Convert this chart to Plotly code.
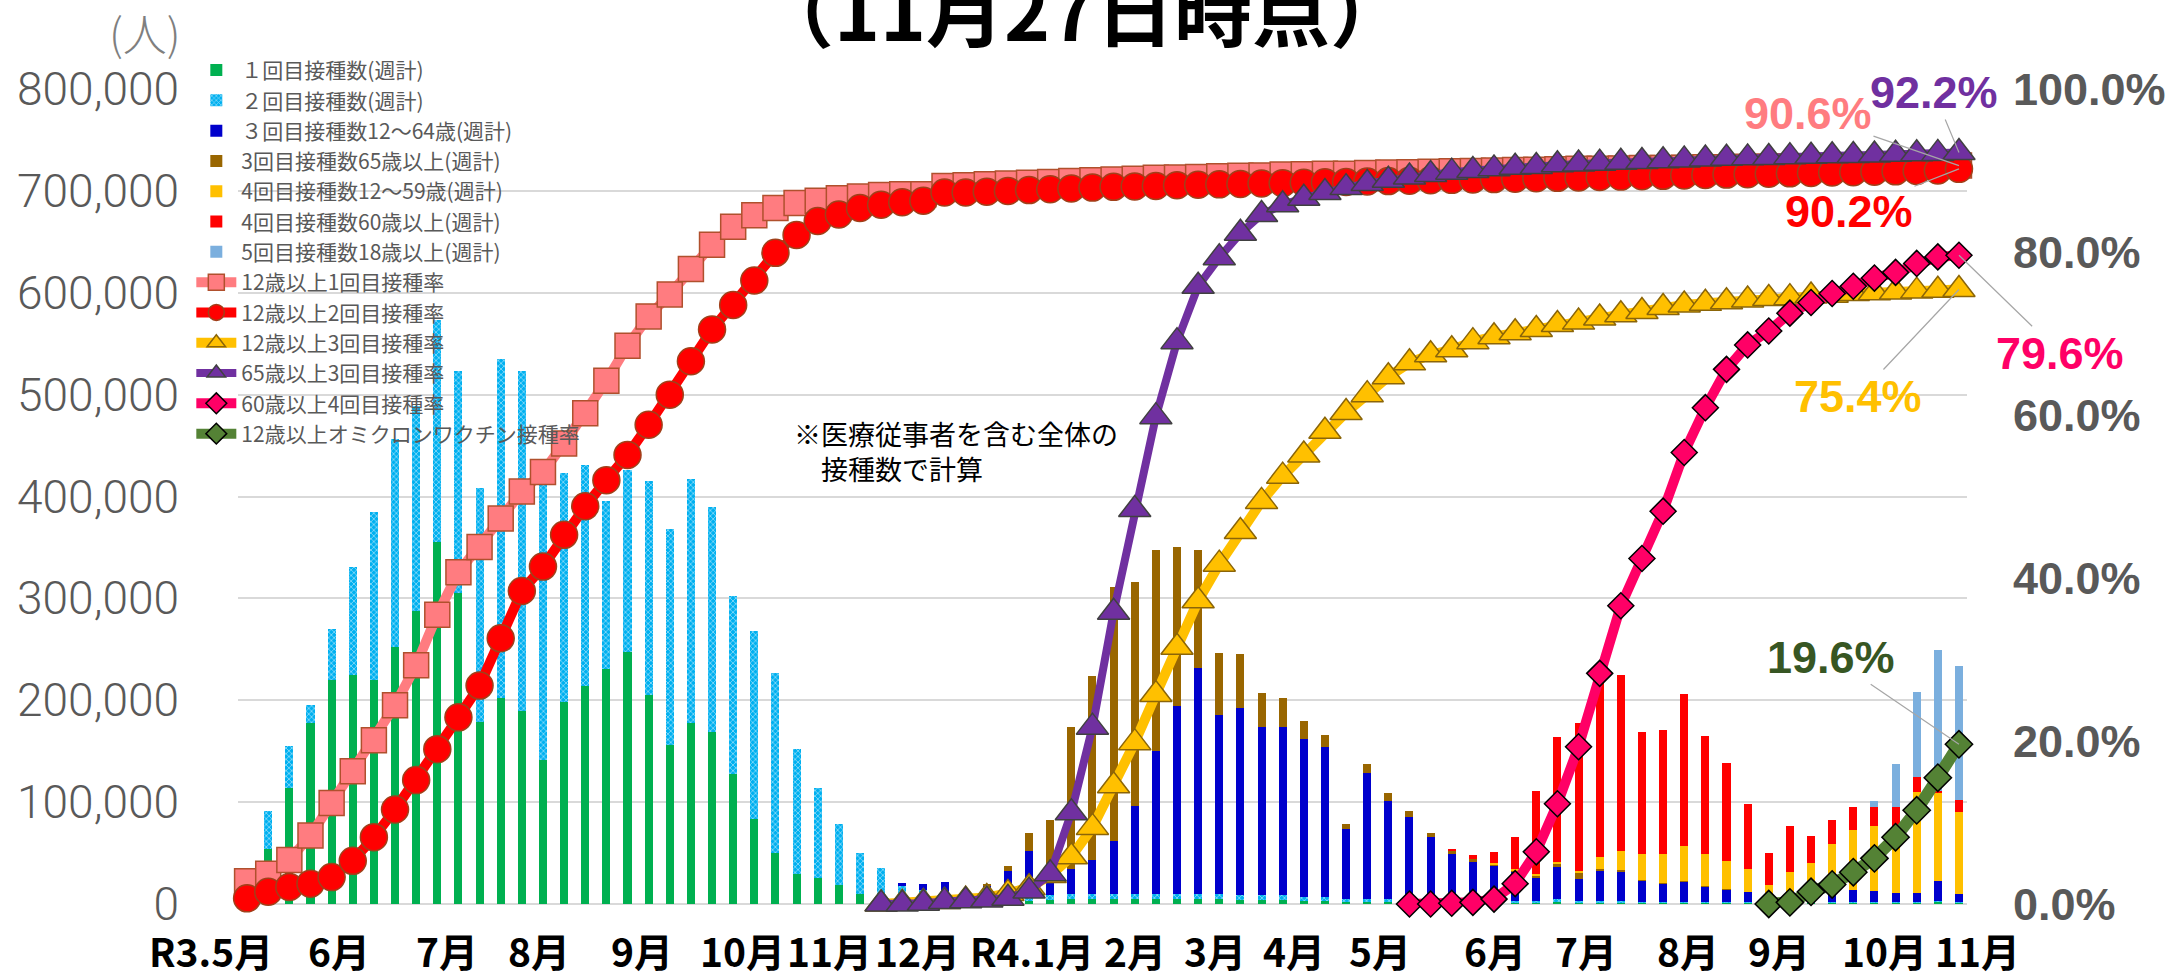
import plotly.graph_objects as go

# ---- weekly index: week 0 = 2021(R3)/5/3 week ... week 81 = 2022(R4)/11/21-27 week
weeks = list(range(82))

# ---- weekly counts (thousands of people)
first_k = [15, 54, 114, 178, 220, 225, 220, 252, 288, 355,
           305, 179, 202, 189, 141, 198, 214, 231, 247, 205,
           156, 178, 169, 128, 83, 50, 29, 26, 19, 10,
           4, 2, 2, 2, 1, 1, 3, 3, 4, 5,
           5, 5, 5, 5, 5, 5, 5, 4, 4, 4,
           3, 3, 2, 2, 2, 2, 2, 2, 2, 2,
           1, 1, 2, 1, 1, 1, 1, 1, 1, 1,
           1, 1, 1, 1, 1, 1, 1, 1, 1, 1,
           2, 1]
second_k = [12, 37, 41, 17, 50, 106, 165, 204, 201, 218,
            218, 229, 333, 334, 274, 225, 217, 165, 179, 210,
            212, 239, 221, 174, 185, 177, 123, 88, 60, 40,
            31, 16, 12, 9, 6, 6, 6, 6, 5, 5,
            5, 5, 5, 5, 5, 5, 5, 5, 5, 5,
            4, 4, 3, 3, 3, 3, 3, 2, 2, 2,
            2, 2, 3, 2, 2, 2, 1, 1, 1, 1,
            1, 1, 1, 1, 1, 1, 1, 1, 1, 1,
            1, 1]
third_u64_k = [0, 0, 0, 0, 0, 0, 0, 0, 0, 0,
               0, 0, 0, 0, 0, 0, 0, 0, 0, 0,
               0, 0, 0, 0, 0, 0, 0, 0, 0, 0,
               0, 3, 6, 11, 5, 11, 23, 43, 24, 24,
               33, 52, 86, 140, 184, 222, 176, 183, 165, 165,
               155, 147, 69, 124, 96, 80, 61, 45, 37, 33,
               29, 23, 31, 22, 29, 28, 21, 18, 20, 15,
               12, 10, 4, 5, 6, 10, 12, 11, 9, 9,
               20, 8]
third_65_k = [0, 0, 0, 0, 0, 0, 0, 0, 0, 0,
              0, 0, 0, 0, 0, 0, 0, 0, 0, 0,
              0, 0, 0, 0, 0, 0, 0, 0, 0, 0,
              0, 0, 0, 0, 1, 2, 5, 18, 49, 140,
              181, 249, 220, 197, 156, 115, 60, 53, 33, 28,
              18, 12, 5, 8, 8, 6, 4, 3, 3, 2,
              1, 2, 3, 5, 2, 2, 1, 1, 1, 1,
              1, 0, 0, 0, 0, 0, 0, 0, 0, 0,
              0, 0]
fourth_u59_k = [0] * 59 + [1, 1, 1, 2, 2, 12, 19, 25, 28, 34, 31,
                           27, 22, 13, 24, 32, 47, 59, 64, 66, 99,
                           86, 80]
fourth_60_k = [0] * 57 + [2, 4, 11, 32, 82, 123, 146, 178, 173, 120,
                          122, 149, 116, 96, 64, 31, 46, 27, 23, 22,
                          18, 18, 15, 2, 12]
fifth_k = [0] * 77 + [6, 42, 83, 138, 132]

# ---- vaccination rates (%)
rate_1st_12 = [2.8, 3.7, 5.4, 8.4, 12.4, 16.3, 20.1, 24.4, 29.3, 35.5,
               40.7, 43.8, 47.3, 50.6, 53.0, 56.5, 60.2, 64.2, 68.5, 72.1,
               74.8, 77.9, 80.9, 83.1, 84.5, 85.4, 86.0, 86.3, 86.6, 86.8,
               87.0, 87.1, 87.1, 88.1, 88.2, 88.3, 88.4, 88.5, 88.6, 88.7,
               88.8, 88.9, 89.0, 89.1, 89.15, 89.2, 89.3, 89.35, 89.4, 89.5,
               89.55, 89.6, 89.6, 89.7, 89.75, 89.8, 89.85, 89.9, 89.95, 90.0,
               90.05, 90.1, 90.15, 90.2, 90.2, 90.25, 90.3, 90.3, 90.35, 90.4,
               90.4, 90.45, 90.45, 90.5, 90.5, 90.5, 90.55, 90.55, 90.6, 90.6,
               90.6, 90.6]
rate_2nd_12 = [0.7, 1.5, 2.1, 2.5, 3.3, 5.3, 8.2, 11.6, 15.2, 19.0,
               22.9, 26.8, 32.6, 38.4, 41.4, 45.3, 48.8, 52.0, 55.1, 58.8,
               62.5, 66.6, 70.5, 73.5, 76.5, 79.9, 82.1, 83.8, 84.6, 85.4,
               85.8, 86.1, 86.3, 87.3, 87.3, 87.4, 87.5, 87.6, 87.7, 87.8,
               87.9, 88.0, 88.05, 88.1, 88.2, 88.25, 88.3, 88.35, 88.4, 88.45,
               88.5, 88.55, 88.6, 88.65, 88.7, 88.75, 88.8, 88.85, 88.9, 88.95,
               89.0, 89.05, 89.1, 89.15, 89.2, 89.25, 89.3, 89.35, 89.4, 89.45,
               89.5, 89.55, 89.6, 89.65, 89.7, 89.75, 89.8, 89.85, 89.9, 89.95,
               90.0, 90.2]
rate_3rd_12 = [None] * 30 + [0.0, 0.1, 0.2, 0.3, 0.5, 0.8, 1.3, 2.0, 3.5, 5.8,
                             9.4, 14.5, 19.8, 25.7, 31.5, 37.2, 41.7, 45.7, 49.4, 52.5,
                             55.1, 58.0, 60.3, 62.5, 64.7, 66.4, 67.4, 68.0, 69.0, 69.6,
                             70.1, 70.5, 71.1, 71.4, 71.9, 72.3, 72.7, 73.2, 73.5, 73.7,
                             73.9, 74.1, 74.3, 74.4, 74.6, 74.7, 74.9, 75.0, 75.1, 75.2,
                             75.3, 75.4]
rate_3rd_65 = [None] * 30 + [0.0, 0.0, 0.1, 0.3, 0.4, 0.5, 0.7, 1.6, 3.7, 11.2,
                             21.7, 35.8, 48.4, 59.8, 69.0, 75.8, 79.3, 82.3, 84.6, 85.8,
                             86.6, 87.3, 87.9, 88.4, 88.8, 89.2, 89.5, 89.8, 90.0, 90.2,
                             90.4, 90.5, 90.7, 90.8, 90.9, 91.0, 91.1, 91.2, 91.3, 91.4,
                             91.5, 91.55, 91.6, 91.7, 91.75, 91.8, 91.85, 91.9, 92.0, 92.05,
                             92.1, 92.2]
rate_4th_60 = [None] * 55 + [0.0, 0.0, 0.1, 0.2, 0.6,
                             2.5, 6.4, 12.3, 19.3, 28.3, 36.6, 42.4, 48.2, 55.4, 60.9,
                             65.6, 68.6, 70.3, 72.5, 73.8, 74.9, 75.8, 76.8, 77.5, 78.6,
                             79.4, 79.6]
rate_omicron_12 = [None] * 72 + [0.0, 0.2, 1.5, 2.4, 3.9, 5.6, 8.2, 11.5, 15.5, 19.6]

# ---- x-axis month labels (position in week units)
month_labels = ["R3.5月", "6月", "7月", "8月", "9月", "10月", "11月", "12月", "R4.1月",
                "2月", "3月", "4月", "5月", "6月", "7月", "8月", "9月", "10月", "11月"]
month_pos = [-1.7, 4.35, 9.46, 13.81, 18.68, 23.46, 27.58, 31.74, 37.13,
             42.0, 45.79, 49.53, 53.6, 59.03, 63.34, 68.2, 72.5, 77.5, 81.9]

# ---- axis ticks
left_ticks = [0, 100000, 200000, 300000, 400000, 500000, 600000, 700000, 800000]
right_ticks = [0, 20, 40, 60, 80, 100]
right_tick_text = ["0.0%", "20.0%", "40.0%", "60.0%", "80.0%", "100.0%"]

# ---- end labels
end_labels = ["90.6%", "92.2%", "90.2%", "79.6%", "75.4%", "19.6%"]

GREY = "#595959"
JP = "Noto Sans CJK JP"
X_RANGE = [-0.43, 81.38]

fig = go.Figure()

bars = [
    ("１回目接種数(週計)", first_k, "#00B050"),
    ("２回目接種数(週計)", second_k, "#00B0F0"),
    ("３回目接種数12～64歳(週計)", third_u64_k, "#0000CC"),
    ("3回目接種数65歳以上(週計)", third_65_k, "#996600"),
    ("4回目接種数12～59歳(週計)", fourth_u59_k, "#FFC000"),
    ("4回目接種数60歳以上(週計)", fourth_60_k, "#FF0000"),
    ("5回目接種数18歳以上(週計)", fifth_k, "#7BAFDE"),
]
for i, (name, vals, col) in enumerate(bars):
    marker = dict(color=col, line=dict(width=0))
    if i == 1:
        marker["pattern"] = dict(shape="x", fgcolor="#FFFFFF", size=4,
                                 solidity=0.4, fillmode="overlay")
    fig.add_trace(go.Bar(x=weeks, y=[v * 1000 for v in vals], name=name,
                         marker=marker, width=0.38, yaxis="y"))

lines = [
    ("12歳以上1回目接種率", rate_1st_12, "#FF7C80", "square", 25, "#B0502D", 10),
    ("12歳以上2回目接種率", rate_2nd_12, "#FF0000", "circle", 27, "#A0401A", 10),
    ("12歳以上3回目接種率", rate_3rd_12, "#FFC000", "triangle-up", 28, "#8B6508", 10),
    ("65歳以上3回目接種率", rate_3rd_65, "#7030A0", "triangle-up", 28, "#404040", 8),
    ("60歳以上4回目接種率", rate_4th_60, "#FF0066", "diamond", 20, "#000000", 10),
    ("12歳以上オミクロンワクチン接種率", rate_omicron_12, "#548235", "diamond", 21, "#000000", 12),
]
for name, vals, col, sym, size, edge, lw in lines:
    fig.add_trace(go.Scatter(x=weeks, y=vals, name=name, yaxis="y2",
                             mode="lines+markers", cliponaxis=False,
                             line=dict(color=col, width=lw),
                             marker=dict(symbol=sym, size=size, color=col,
                                         line=dict(color=edge, width=1.5))))

annotations = []
# month labels under the axis (converted to paper units through the x range so that
# labels beyond the first/last week are still drawn)
for lab, pos in zip(month_labels, month_pos):
    xp = (pos - X_RANGE[0]) / (X_RANGE[1] - X_RANGE[0])
    annotations.append(dict(x=xp, xref="paper", y=-0.057, yref="paper", text=lab,
                            showarrow=False, xanchor="center", yanchor="middle",
                            font=dict(family="Liberation Sans Narrow, Arial Narrow, " + JP,
                                      size=39, color="#000000", weight="bold")))

# end-value labels with leader lines
end_specs = [
    (rate_1st_12, "#FF7C80", -151, -52),
    (rate_3rd_65, "#7030A0", -25, -60),
    (rate_2nd_12, "#FF0000", -110, 43),
    (rate_4th_60, "#FF0066", 101, 98),
    (rate_3rd_12, "#FFC000", -101, 107),
    (rate_omicron_12, "#375623", -128, -87),
]
for text, (vals, col, ax, ay) in zip(end_labels, end_specs):
    annotations.append(dict(x=weeks[-1], xref="x", y=vals[-1], yref="y2", text=text,
                            showarrow=True, arrowhead=0, arrowwidth=1.2,
                            arrowcolor="#A6A6A6", ax=ax, ay=ay, standoff=0,
                            font=dict(family="Liberation Sans, Arial", size=45,
                                      color=col, weight="bold")))

# title (partly cut off at the top)
annotations.append(dict(x=0.488, xref="paper", y=1.100, yref="paper",
                        text="（11月27日時点）", showarrow=False,
                        xanchor="center", yanchor="middle",
                        font=dict(family=JP, size=78, color="#000000", weight="bold")))
# unit label
annotations.append(dict(x=-0.054, xref="paper", y=1.070, yref="paper", text="(人)",
                        showarrow=False, xanchor="center", yanchor="middle",
                        font=dict(family=JP, size=44, color="#7F7F7F", weight=300)))
# note
annotations.append(dict(x=25.8, xref="x", y=445000, yref="y",
                        text="※医療従事者を含む全体の<br>　接種数で計算",
                        showarrow=False, xanchor="left", yanchor="middle", align="left",
                        font=dict(family=JP, size=27, color="#000000")))

fig.update_layout(
    width=2179, height=977,
    margin=dict(l=238, r=212, t=89, b=73, pad=0),
    paper_bgcolor="white", plot_bgcolor="white",
    barmode="stack", bargap=0,
    showlegend=True,
    legend=dict(x=-0.027, y=1.048, xanchor="left", yanchor="top",
                bgcolor="rgba(0,0,0,0)", traceorder="normal",
                font=dict(family=JP, size=21, color=GREY),
                itemwidth=40, tracegroupgap=0),
    xaxis=dict(range=X_RANGE, showgrid=False, zeroline=False,
               showticklabels=False, ticks="", showline=False),
    yaxis=dict(range=[0, 800000], tickvals=left_ticks,
               tickformat=",d", showgrid=True, gridcolor="#D9D9D9", gridwidth=2,
               zeroline=True, zerolinecolor="#D9D9D9", zerolinewidth=2,
               showline=False, ticks="", ticklabelstandoff=58,
               tickfont=dict(family="Roboto", size=46, color=GREY, weight=300)),
    yaxis2=dict(range=[0, 100], overlaying="y", side="right",
                tickvals=right_ticks, ticktext=right_tick_text,
                showgrid=False, zeroline=False, showline=False, ticks="",
                ticklabelstandoff=45,
                tickfont=dict(family="Liberation Sans, Arial", size=45, color=GREY,
                              weight="bold")),
    annotations=annotations,
)

fig.write_html("out.html", config={"displayModeBar": False},
               post_script="document.body.style.margin='0px';")
